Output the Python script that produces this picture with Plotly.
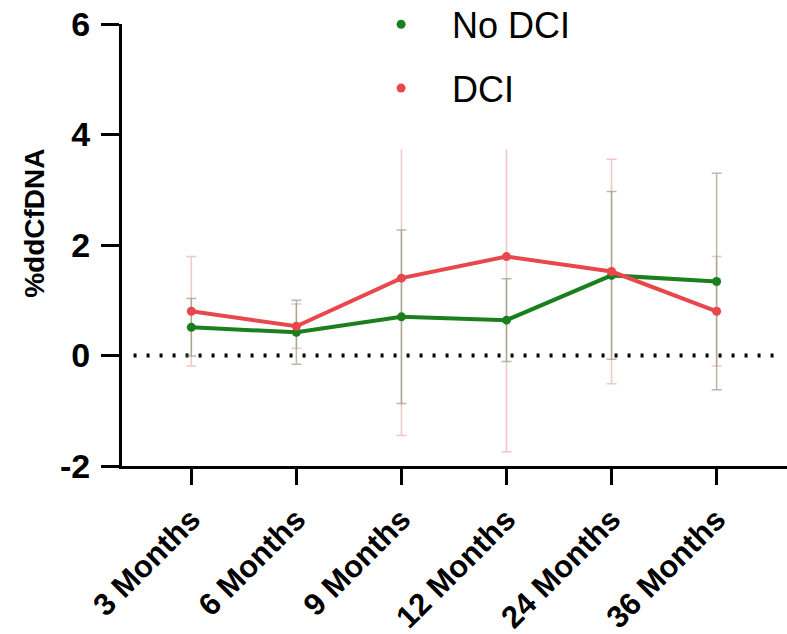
import plotly.graph_objects as go

categories = ["3 Months", "6 Months", "9 Months", "12 Months", "24 Months", "36 Months"]

no_dci_mean = [0.51, 0.42, 0.70, 0.64, 1.45, 1.34]
no_dci_err = [0.52, 0.58, 1.57, 0.75, 1.52, 1.96]

dci_mean = [0.80, 0.53, 1.40, 1.79, 1.52, 0.80]
dci_err_minus = [0.99, 0.40, 2.85, 3.53, 2.03, 0.99]
dci_err_plus = [0.99, 0.40, 2.33, 1.94, 2.03, 0.99]
dci_capped = [True, True, False, False, True, True]

y_ticks = [-2, 0, 2, 4, 6]
y_tick_text = ["-2", "0", "2", "4", "6"]
y_title = "%ddCfDNA"

GREEN = "#1b7f1e"
RED = "#e8474b"
GREEN_EB = "rgba(110,140,100,0.55)"
RED_EB = "rgba(220,130,130,0.45)"

fig = go.Figure()

plus_capped = [p if c else 0 for p, c in zip(dci_err_plus, dci_capped)]
fig.add_trace(go.Scatter(
    x=categories, y=dci_mean, mode="markers",
    marker=dict(size=1, color="rgba(0,0,0,0)"),
    error_y=dict(type="data", symmetric=False, array=plus_capped, arrayminus=dci_err_minus,
                 color=RED_EB, thickness=1.5, width=5),
    showlegend=False, hoverinfo="skip"))
cats_unc = [c for c, f in zip(categories, dci_capped) if not f]
mean_unc = [m for m, f in zip(dci_mean, dci_capped) if not f]
plus_unc = [p for p, f in zip(dci_err_plus, dci_capped) if not f]
fig.add_trace(go.Scatter(
    x=cats_unc, y=mean_unc, mode="markers",
    marker=dict(size=1, color="rgba(0,0,0,0)"),
    error_y=dict(type="data", symmetric=False, array=plus_unc, arrayminus=[0] * len(plus_unc),
                 color=RED_EB, thickness=1.5, width=0),
    showlegend=False, hoverinfo="skip"))
fig.add_trace(go.Scatter(
    x=categories, y=no_dci_mean, mode="markers",
    marker=dict(size=1, color="rgba(0,0,0,0)"),
    error_y=dict(type="data", array=no_dci_err, color=GREEN_EB, thickness=1.5, width=5),
    showlegend=False, hoverinfo="skip"))

fig.add_trace(go.Scatter(
    x=categories, y=no_dci_mean, mode="lines+markers",
    line=dict(color=GREEN, width=4), marker=dict(size=9, color=GREEN),
    showlegend=False))
fig.add_trace(go.Scatter(
    x=categories, y=dci_mean, mode="lines+markers",
    line=dict(color=RED, width=4), marker=dict(size=9, color=RED),
    showlegend=False))

fig.add_trace(go.Scatter(x=[None], y=[None], mode="markers", name="No DCI",
                         marker=dict(size=9, color=GREEN), legendgroup="a"))
fig.add_trace(go.Scatter(x=[None], y=[None], mode="markers", name="DCI",
                         marker=dict(size=9, color=RED), legendgroup="b"))

fig.add_shape(type="line", xref="x", yref="y", x0=-0.55, x1=5.55, y0=0, y1=0,
              line=dict(color="black", width=4, dash="3px,10px"), layer="below")

fig.add_annotation(text=y_title, textangle=-90, xref="paper", yref="paper",
                   x=-0.131, y=0.55, xanchor="center", yanchor="middle", showarrow=False,
                   font=dict(size=28, family="Liberation Sans, Arial", weight="bold", color="black"))

fig.update_layout(
    width=787, height=634,
    margin=dict(l=122, r=0, t=24, b=168, autoexpand=False),
    plot_bgcolor="white", paper_bgcolor="white",
    font=dict(family="Liberation Sans, Arial, sans-serif", color="black"),
    legend=dict(x=0.343, y=1.067, xanchor="left", yanchor="top",
                font=dict(size=36, color="black"),
                itemwidth=92, tracegroupgap=14, traceorder="grouped",
                bgcolor="rgba(0,0,0,0)"),
    xaxis=dict(range=[-0.66, 5.67], showgrid=False, zeroline=False, automargin=False,
               showline=True, linecolor="black", linewidth=3,
               ticks="outside", ticklen=16, tickwidth=3, tickcolor="black",
               tickangle=-45, ticklabelstandoff=4, ticklabeloverflow="allow",
               tickfont=dict(size=31, family="Liberation Sans, Arial", weight="bold")),
    yaxis=dict(range=[-2, 6], tickvals=y_ticks, ticktext=y_tick_text,
               showgrid=False, zeroline=False, automargin=False,
               showline=True, linecolor="black", linewidth=3,
               ticks="outside", ticklen=18, tickwidth=3, tickcolor="black",
               ticklabelstandoff=4, ticklabeloverflow="allow",
               tickfont=dict(size=34, family="Liberation Sans, Arial", weight="bold")),
)

fig.write_html("out.html", config={"displayModeBar": False},
               post_script="document.body.style.margin='0px';")
